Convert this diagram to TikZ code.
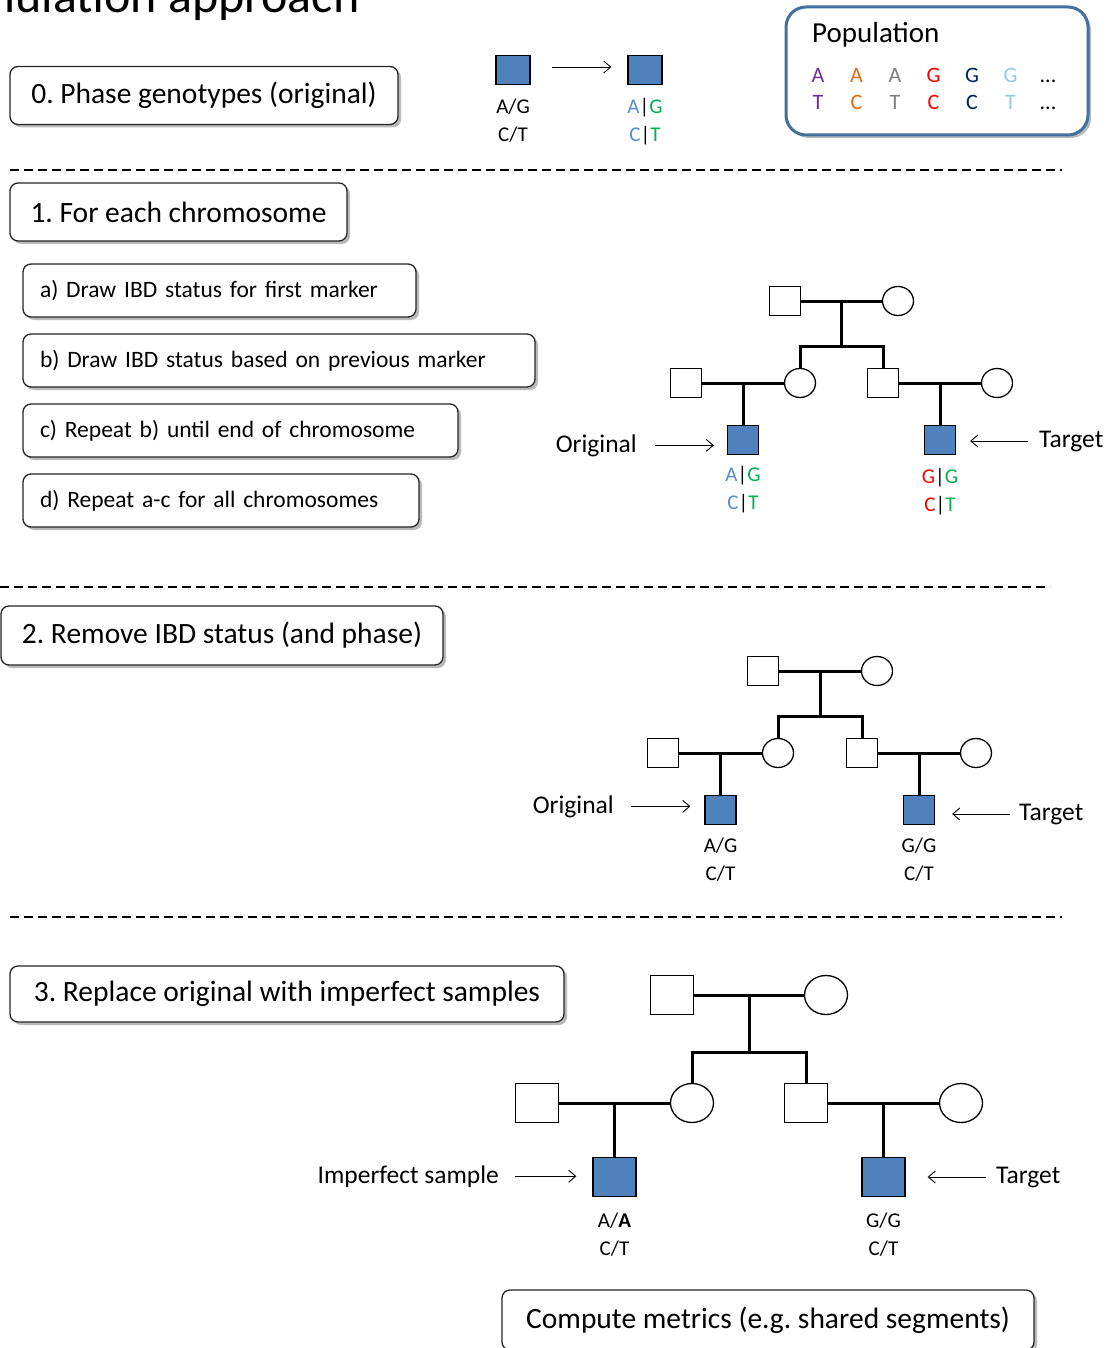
\documentclass[tikz,border=0pt]{standalone}
\usepackage{fontspec}
\setmainfont{Carlito}
\usetikzlibrary{calc,positioning,shapes.geometric,shadows,arrows.meta}
\frenchspacing

\definecolor{kidblue}{HTML}{4F81BD}
\definecolor{allA}{HTML}{558ED5}
\definecolor{allB}{HTML}{00B050}
\definecolor{allR}{HTML}{FF0000}
\definecolor{popline}{HTML}{41719C}
\definecolor{popP}{HTML}{7030A0}
\definecolor{popO}{HTML}{E46C0A}
\definecolor{popG}{HTML}{7F7F7F}
\definecolor{popN}{HTML}{002060}
\definecolor{popL}{HTML}{93CDDD}

\begin{document}
\begin{tikzpicture}[x=1pt,y=-1pt,
  stepbox/.style={draw=black!85, line width=1.3pt, rounded corners=8pt, fill=white,
    drop shadow={shadow xshift=3pt, shadow yshift=-3pt, fill=black!45, opacity=.6},
    font=\fontsize{29.5}{35}\selectfont, minimum height=58pt},
  subbox/.style={stepbox, font=\fontsize{23.5}{29}\selectfont, minimum height=53pt,
    align=left, inner xsep=17pt},
  male/.style={rectangle, draw, line width=1.3pt, fill=white, inner sep=0pt,
    minimum width=31pt, minimum height=29pt},
  female/.style={ellipse, draw, line width=1.3pt, fill=white, inner sep=0pt,
    minimum width=31pt, minimum height=29pt},
  kid/.style={male, fill=kidblue},
  big/.style={minimum width=43pt, minimum height=39pt},
  bond/.style={line width=3pt},
  arr/.style={line width=0.9pt, -{Straight Barb[length=7pt,width=12pt]}},
  divider/.style={line width=1.4pt, dash pattern=on 9pt off 5pt},
  geno/.style={font=\fontsize{21}{28}\selectfont, align=center, inner sep=0pt},
  lab/.style={font=\fontsize{25.5}{30}\selectfont, inner sep=0pt},
  popletter/.style={font=\fontsize{22}{26}\selectfont, inner sep=0pt, anchor=base}]

\useasboundingbox (0,0) rectangle (1110,1348);

% title, cut off at the top
\node[font=\fontsize{50}{54}\selectfont, anchor=base west, inner sep=0pt] (title) at (-59,13) {Simulation approach};

% step 0
\node[stepbox, minimum width=388pt] (box0) at (204,95.5) {0. Phase genotypes (original)};
\node[kid, minimum width=34pt] (g0) at (513,70) {};
\node[kid, minimum width=34pt] (g1) at (645,70) {};
\draw[arr, shorten <=21pt, shorten >=16pt] ([yshift=3pt]g0.east) -- ([yshift=3pt]g1.west);
\node[geno, below=14pt of g0] (g0lab) {A/G\\C/T};
\node[geno, below=13pt of g1] (g1lab) {\textcolor{allA}{A}|\textcolor{allB}{G}\\\textcolor{allA}{C}|\textcolor{allB}{T}};

% population
\node[stepbox, draw=popline, line width=3pt, rounded corners=20pt,
  minimum width=302pt, minimum height=128pt] (pop) at (937,71) {};
\node[font=\fontsize{29}{34}\selectfont, anchor=base west, inner sep=0pt] (poptitle) at (812,43) {Population};
\foreach \a/\b/\c [count=\i from 0] in {A/T/popP, A/C/popO, A/T/popG, G/C/allR, G/C/popN, G/T/popL}{
  \node[popletter, text=\c] (top\i) at ({818+38.5*\i},83) {\a};
  \node[popletter, text=\c] (bot\i) at ({818+38.5*\i},110) {\b};
}
\node[popletter] (topdots) at (1048,83) {...};
\node[popletter] (botdots) at (1048,110) {...};

\draw[divider] (10,170) -- (1062,170);

% step 1
\node[stepbox, minimum width=337pt] (box1) at (178.5,212) {1. For each chromosome};
\node[subbox, text width=359pt] (boxa) at (219.5,290.5) {a) Draw IBD status for first marker};
\node[subbox, text width=478pt] (boxb) at (279,360.5) {b) Draw IBD status based on previous marker};
\node[subbox, text width=401pt] (boxc) at (240.5,430.5) {c) Repeat b) until end of chromosome};
\node[subbox, text width=362pt] (boxd) at (221,500.5) {d) Repeat a-c for all chromosomes};

\node[male] (f1) at (785,301) {};
\node[female] (m1) at (898,301) {};
\node[male] (h1) at (686,383) {};
\node[female] (d1) at (800,383) {};
\node[male] (s1) at (883,383) {};
\node[female] (w1) at (997,383) {};
\node[kid] (org1) at ($(h1)!.5!(d1)+(0,57)$) {};
\node[kid] (tgt1) at ($(s1)!.5!(w1)+(0,57)$) {};
\draw[bond] (f1) -- (m1) (h1) -- (d1) (s1) -- (w1);
\draw[bond] ($(f1)!.5!(m1)$) -- ++(0,45) coordinate (k1);
\draw[bond] (d1.north) |- (k1) -| (s1.north);
\draw[bond] ($(h1)!.5!(d1)$) -- (org1);
\draw[bond] ($(s1)!.5!(w1)$) -- (tgt1);
\node[lab, anchor=base east] (ol1) at (637,452) {Original};
\draw[arr, shorten <=18pt, shorten >=13pt] (ol1.east) -- (ol1.east -| org1.west);
\node[lab, anchor=base west] (tl1) at (1039,447) {Target};
\draw[arr, shorten <=11pt, shorten >=14pt] (tl1.west) -- (tl1.west -| tgt1.east);
\node[geno, below=11pt of org1] (orglab1) {\textcolor{allA}{A}|\textcolor{allB}{G}\\\textcolor{allA}{C}|\textcolor{allB}{T}};
\node[geno, below=13pt of tgt1] (tgtlab1) {\textcolor{allR}{G}|\textcolor{allB}{G}\\\textcolor{allR}{C}|\textcolor{allB}{T}};

\draw[divider] (0,587) -- (1050,587);

% step 2
\node[stepbox, minimum width=442pt, minimum height=59pt] (box2) at (222,635.5) {2. Remove IBD status (and phase)};

\node[male] (f2) at (763,671) {};
\node[female] (m2) at (877,671) {};
\node[male] (h2) at (663,753) {};
\node[female] (d2) at (778,753) {};
\node[male] (s2) at (862,753) {};
\node[female] (w2) at (976,753) {};
\node[kid] (org2) at ($(h2)!.5!(d2)+(0,57)$) {};
\node[kid] (tgt2) at ($(s2)!.5!(w2)+(0,57)$) {};
\draw[bond] (f2) -- (m2) (h2) -- (d2) (s2) -- (w2);
\draw[bond] ($(f2)!.5!(m2)$) -- ++(0,45) coordinate (k2);
\draw[bond] (d2.north) |- (k2) -| (s2.north);
\draw[bond] ($(h2)!.5!(d2)$) -- (org2);
\draw[bond] ($(s2)!.5!(w2)$) -- (tgt2);
\node[lab, anchor=base east] (ol2) at (614,813) {Original};
\draw[arr, shorten <=17pt, shorten >=14pt] (ol2.east) -- (ol2.east -| org2.west);
\node[lab, anchor=base west] (tl2) at (1019,820) {Target};
\draw[arr, shorten <=9pt, shorten >=17pt] (tl2.west) -- (tl2.west -| tgt2.east);
\node[geno, below=13pt of org2] (orglab2) {A/G\\C/T};
\node[geno, below=13pt of tgt2] (tgtlab2) {G/G\\C/T};

\draw[divider] (10,917) -- (1062,917);

% step 3
\node[stepbox, minimum width=554pt, minimum height=56pt] (box3) at (287,994) {3. Replace original with imperfect samples};

\node[male, big] (f3) at (672,995) {};
\node[female, big] (m3) at (826,995) {};
\node[male, big] (h3) at (537,1103) {};
\node[female, big] (d3) at (692,1103) {};
\node[male, big] (s3) at (806,1103) {};
\node[female, big] (w3) at (961,1103) {};
\node[kid, big] (org3) at ($(h3)!.5!(d3)+(0,74)$) {};
\node[kid, big] (tgt3) at ($(s3)!.5!(w3)+(0,74)$) {};
\draw[bond] (f3) -- (m3) (h3) -- (d3) (s3) -- (w3);
\draw[bond] ($(f3)!.5!(m3)$) -- ++(0,57) coordinate (k3);
\draw[bond] (d3.north) |- (k3) -| (s3.north);
\draw[bond] ($(h3)!.5!(d3)$) -- (org3);
\draw[bond] ($(s3)!.5!(w3)$) -- (tgt3);
\node[lab, anchor=base east] (ol3) at (499,1183) {Imperfect sample};
\draw[arr, shorten <=16pt, shorten >=16pt] (ol3.east) -- (ol3.east -| org3.west);
\node[lab, anchor=base west] (tl3) at (996,1183) {Target};
\draw[arr, shorten <=10pt, shorten >=22pt] (tl3.west) -- (tl3.west -| tgt3.east);
\node[geno, below=16pt of org3] (orglab3) {A/\textbf{A}\\C/T};
\node[geno, below=16pt of tgt3] (tgtlab3) {G/G\\C/T};

\node[stepbox, minimum width=532pt, minimum height=60pt] (boxm) at (768,1320) {Compute metrics (e.g. shared segments)};
\end{tikzpicture}
\end{document}
